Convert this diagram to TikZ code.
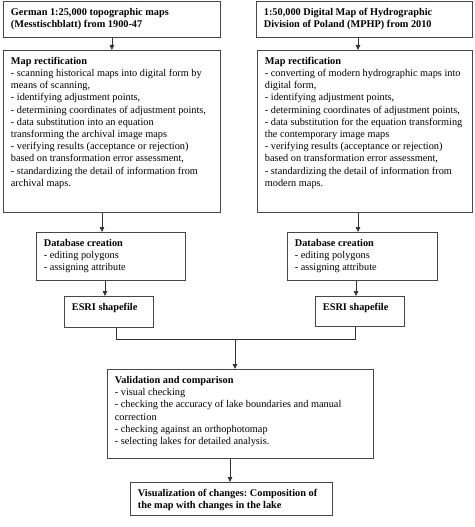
\documentclass[tikz,border=0pt]{standalone}
\usepackage{fontspec}
\setmainfont{Liberation Serif}
\usetikzlibrary{arrows.meta}
\frenchspacing
\tikzset{
  flowbox/.style={draw=black!72, line width=0.8pt, inner xsep=7.5pt, inner ysep=4pt, anchor=north west},
  arr/.style={draw=black!80, line width=0.8pt, -{Triangle[length=5pt,width=4.5pt]}},
  conn/.style={draw=black!80, line width=0.8pt}
}
\newcommand\flowbx[6]{\node[flowbox] (#1) at (#2,#3) {\parbox[t][\dimexpr #5pt-8pt\relax][t]{\dimexpr #4pt-15pt\relax}{\fontsize{10.3}{12.2}\selectfont\frenchspacing\raggedright\rightskip=-8pt plus 1fil\rule{0pt}{10pt}#6}};}
\begin{document}
\begin{tikzpicture}[x=1pt,y=-1pt]
\useasboundingbox (0,0) rectangle (474,527);
\flowbx{topL}{3}{1}{217}{36}{\textbf{German 1:25,000 topographic maps\\(Messtischblatt) from 1900-47}}
\flowbx{topR}{256}{1}{216}{36}{\textbf{1:50,000 Digital Map of Hydrographic\\Division of Poland (MPHP) from 2010}}
\flowbx{rectL}{3}{50}{217}{162}{\textbf{Map rectification}\\
- scanning historical maps into digital form by\\ means of scanning,\\
- identifying adjustment points,\\
- determining coordinates of adjustment points,\\
- data substitution into an equation\\ transforming the archival image maps\\
- verifying results (acceptance or rejection)\\ based on transformation error assessment,\\
- standardizing the detail of information from\\ archival maps.}
\flowbx{rectR}{257}{50}{215}{162}{\textbf{Map rectification}\\
- converting of modern hydrographic maps into\\ digital form,\\
- identifying adjustment points,\\
- determining coordinates of adjustment points,\\
- data substitution for the equation transforming\\ the contemporary image maps\\
- verifying results (acceptance or rejection)\\ based on transformation error assessment,\\
- standardizing the detail of information from\\ modern maps.}
\flowbx{dbL}{36}{232}{149}{48}{\textbf{Database creation}\\- editing polygons\\- assigning attribute}
\flowbx{dbR}{287}{232}{150}{48}{\textbf{Database creation}\\- editing polygons\\- assigning attribute}
\flowbx{esriL}{64}{296}{89}{31}{\textbf{ESRI shapefile}}
\flowbx{esriR}{315}{296}{89}{30}{\textbf{ESRI shapefile}}
\flowbx{valid}{107}{369}{266}{89}{\textbf{Validation and comparison}\\
- visual checking\\
- checking the accuracy of lake boundaries and manual\\ correction\\
- checking against an orthophotomap\\
- selecting lakes for detailed analysis.}
\flowbx{vis}{130}{482}{202}{33}{\textbf{Visualization of changes: Composition of\\the map with changes in the lake}}
% connector x positions
\coordinate (cTR) at (358,0);
\coordinate (cRL) at (102,0);
\coordinate (cRR) at (358,0);
\coordinate (cDL) at (105,0);
\coordinate (cDR) at (356,0);
\coordinate (jL) at (116,339);
\coordinate (jM) at (235,339);
\coordinate (jR) at (355,339);
\coordinate (cV) at (230,0);
\draw[arr] (topL.south) -- (rectL.north);
\draw[arr] (topR.south -| cTR) -- (rectR.north -| cTR);
\draw[arr] (rectL.south -| cRL) -- (dbL.north -| cRL);
\draw[arr] (rectR.south -| cRR) -- (dbR.north -| cRR);
\draw[arr] (dbL.south -| cDL) -- (esriL.north -| cDL);
\draw[arr] (dbR.south -| cDR) -- (esriR.north -| cDR);
\draw[conn] (esriL.south -| jL) -- (jL) -- (jR) -- (esriR.south -| jR);
\draw[arr] (jM) -- (valid.north -| jM);
\draw[arr] (valid.south -| cV) -- (vis.north -| cV);
\end{tikzpicture}
\end{document}
